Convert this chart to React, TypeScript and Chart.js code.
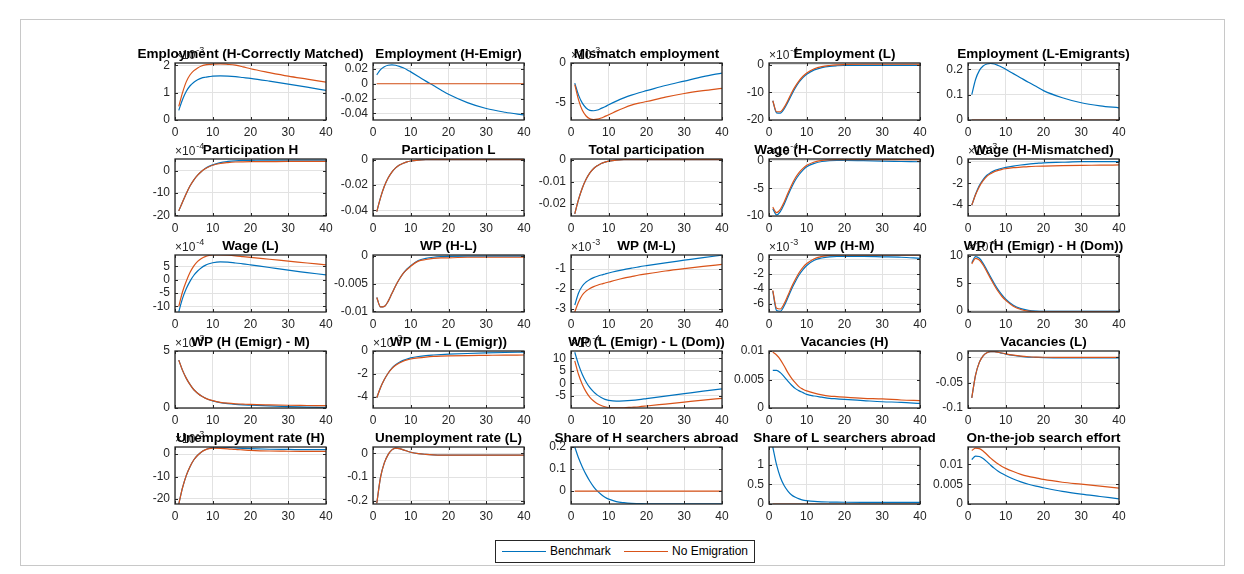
import React, { useEffect, useRef } from "react";
import { Chart, registerables } from "chart.js";

Chart.register(...registerables);

const PERIODS = [1, 2, 3, 4, 5, 6, 7, 8, 9, 10, 12, 14, 16, 18, 20, 25, 30, 35, 40];
const X_TICKS = [0, 10, 20, 30, 40];

const TITLES = [
  "Employment (H-Correctly Matched)", "Employment (H-Emigr)", "Mismatch employment", "Employment (L)", "Employment (L-Emigrants)",
  "Participation H", "Participation L", "Total participation", "Wage (H-Correctly Matched)", "Wage (H-Mismatched)",
  "Wage (L)", "WP (H-L)", "WP (M-L)", "WP (H-M)", "WP (H (Emigr) - H (Dom))",
  "WP (H (Emigr) - M)", "WP (M - L (Emigr))", "WP (L (Emigr) - L (Dom))", "Vacancies (H)", "Vacancies (L)",
  "Unemployment rate (H)", "Unemployment rate (L)", "Share of H searchers abroad", "Share of L searchers abroad", "On-the-job search effort",
];

const EXPONENTS: (number | null)[] = [
  -3, null, -3, -4, null,
  -4, null, null, -4, -3,
  -4, null, -3, -3, -4,
  -3, -3, -4, null, null,
  -3, null, null, null, null,
];

const Y_LIMITS: [number, number][] = [
  [0, 2.08], [-0.049, 0.028], [-7.1, 0], [-20, 0.7], [0, 0.225],
  [-20.3, 5.2], [-0.0445, 0.0005], [-0.0255, 0.0003], [-10, 0.3], [-5, 0.25],
  [-12.1, 9.3], [-0.0101, 0.0001], [-3.15, -0.3], [-7.1, 0.55], [-0.2, 10.1],
  [0, 5], [-5, 0], [-10, 13], [0, 0.01], [-0.1, 0.0125],
  [-22.3, 3.2], [-0.213, 0.027], [-0.058, 0.2], [0, 1.45], [0, 0.0144],
];

const Y_TICKS: number[][] = [
  [0, 1, 2], [-0.04, -0.02, 0, 0.02], [-5, 0], [-20, -10, 0], [0, 0.1, 0.2],
  [-20, -10, 0], [-0.04, -0.02, 0], [-0.02, -0.01, 0], [-10, -5, 0], [-4, -2, 0],
  [-10, -5, 0, 5], [-0.01, -0.005, 0], [-3, -2, -1], [-6, -4, -2, 0], [0, 5, 10],
  [0, 5], [-4, -2, 0], [-5, 0, 5, 10], [0, 0.005, 0.01], [-0.1, -0.05, 0],
  [-20, -10, 0], [-0.2, -0.1, 0], [0, 0.1, 0.2], [0, 0.5, 1], [0, 0.005, 0.01],
];

// Benchmark (blue) and No Emigration (red) series, values at PERIODS
const empHCM_b = [0.35, 0.75, 1.05, 1.25, 1.38, 1.47, 1.53, 1.56, 1.58, 1.6, 1.61, 1.6, 1.58, 1.55, 1.52, 1.42, 1.31, 1.2, 1.08];
const empHCM_n = [0.5, 1.0, 1.4, 1.65, 1.8, 1.9, 1.97, 2.01, 2.03, 2.04, 2.05, 2.03, 2.0, 1.94, 1.87, 1.73, 1.6, 1.49, 1.38];
const empHE_b = [0.012, 0.019, 0.023, 0.025, 0.0255, 0.025, 0.0235, 0.0215, 0.019, 0.016, 0.0098, 0.0035, -0.0025, -0.0085, -0.0142, -0.0255, -0.0335, -0.0385, -0.0422];
const empHE_n = [0, 0, 0, 0, 0, 0, 0, 0, 0, 0, 0, 0, 0, 0, 0, 0, 0, 0, 0];
const mism_b = [-2.5, -4.0, -5.0, -5.6, -5.9, -5.95, -5.85, -5.65, -5.45, -5.2, -4.75, -4.35, -4.0, -3.7, -3.45, -2.8, -2.25, -1.7, -1.25];
const mism_n = [-2.7, -4.6, -5.9, -6.6, -6.95, -7.05, -7.0, -6.85, -6.65, -6.45, -6.0, -5.6, -5.25, -5.0, -4.8, -4.25, -3.8, -3.45, -3.15];
const empL_b = [-13, -17.4, -17.5, -16, -13.5, -10.8, -8.3, -6.2, -4.6, -3.4, -1.8, -0.95, -0.5, -0.3, -0.2, -0.15, -0.15, -0.15, -0.15];
const empL_n = [-13, -17, -17, -15.4, -12.9, -10.1, -7.7, -5.7, -4.1, -2.9, -1.4, -0.6, -0.2, 0.05, 0.15, 0.25, 0.25, 0.25, 0.25];
const empLE_b = [0.1, 0.16, 0.195, 0.213, 0.221, 0.223, 0.221, 0.215, 0.208, 0.2, 0.183, 0.166, 0.149, 0.133, 0.116, 0.088, 0.068, 0.056, 0.048];
const empLE_n = [0, 0, 0, 0, 0, 0, 0, 0, 0, 0, 0, 0, 0, 0, 0, 0, 0, 0, 0];
const partH_b = [-18, -14, -10.2, -6.8, -4.1, -2, -0.4, 0.9, 1.9, 2.6, 3.6, 4.1, 4.4, 4.55, 4.6, 4.7, 4.7, 4.7, 4.7];
const partH_n = [-18, -14, -10.2, -6.8, -4.1, -2, -0.4, 0.8, 1.7, 2.4, 3.2, 3.6, 3.85, 3.95, 4.0, 4.05, 4.1, 4.1, 4.1];
const partL_b = [-0.041, -0.03, -0.021, -0.0145, -0.0098, -0.0065, -0.0043, -0.0028, -0.0018, -0.0011, -0.0004, -0.0001, 0, 0, 0, 0, 0, 0, 0];
const partL_n = [-0.041, -0.03, -0.021, -0.0145, -0.0098, -0.0065, -0.0043, -0.0028, -0.0018, -0.0011, -0.0004, -0.0001, 0, 0, 0, 0, 0, 0, 0];
const totP_b = [-0.0245, -0.018, -0.0128, -0.0089, -0.006, -0.004, -0.0027, -0.0017, -0.0011, -0.0007, -0.0002, 0, 0, 0, 0, 0, 0, 0, 0];
const totP_n = [-0.0245, -0.018, -0.0128, -0.0089, -0.006, -0.004, -0.0027, -0.0017, -0.0011, -0.0007, -0.0002, 0, 0, 0, 0, 0, 0, 0, 0];
const wHCM_b = [-8.7, -9.8, -9.2, -7.9, -6.3, -4.8, -3.5, -2.5, -1.7, -1.1, -0.5, -0.15, 0, 0.05, 0.05, 0, -0.1, -0.15, -0.2];
const wHCM_n = [-8.4, -9.4, -8.8, -7.5, -5.9, -4.4, -3.1, -2.1, -1.4, -0.85, -0.25, 0.05, 0.15, 0.2, 0.2, 0.2, 0.2, 0.2, 0.2];
const wHM_b = [-4.0, -3.0, -2.2, -1.65, -1.25, -1.0, -0.82, -0.7, -0.6, -0.52, -0.4, -0.3, -0.22, -0.16, -0.1, -0.05, 0, 0, 0];
const wHM_n = [-4.0, -3.05, -2.3, -1.75, -1.35, -1.1, -0.92, -0.8, -0.7, -0.64, -0.55, -0.5, -0.45, -0.42, -0.4, -0.36, -0.33, -0.32, -0.3];
const wL_b = [-12, -7, -3.3, -0.5, 1.7, 3.3, 4.5, 5.4, 6.0, 6.4, 6.7, 6.6, 6.3, 6.0, 5.6, 4.6, 3.6, 2.7, 1.8];
const wL_n = [-10, -4.5, -0.5, 2.8, 5.2, 6.9, 8.0, 8.7, 9.1, 9.3, 9.3, 9.2, 9.0, 8.7, 8.4, 7.7, 7.0, 6.3, 5.6];
const wpHL_b = [-0.0075, -0.0092, -0.0091, -0.0082, -0.0068, -0.0054, -0.0042, -0.0032, -0.0024, -0.0018, -0.0009, -0.0005, -0.0003, -0.0002, -0.00015, -0.0001, -0.0001, -0.0001, -0.0001];
const wpHL_n = [-0.0075, -0.0092, -0.0091, -0.0082, -0.0068, -0.0054, -0.0042, -0.0032, -0.0025, -0.0019, -0.001, -0.0007, -0.0005, -0.0004, -0.0004, -0.0003, -0.0003, -0.0003, -0.0003];
const wpML_b = [-2.8, -2.2, -1.85, -1.65, -1.52, -1.43, -1.36, -1.3, -1.25, -1.2, -1.11, -1.03, -0.96, -0.89, -0.83, -0.69, -0.56, -0.43, -0.31];
const wpML_n = [-3.15, -2.65, -2.3, -2.1, -1.97, -1.88, -1.81, -1.75, -1.7, -1.65, -1.55, -1.46, -1.38, -1.3, -1.24, -1.1, -0.98, -0.87, -0.77];
const wpHM_b = [-4.3, -6.9, -7.0, -6.3, -5.2, -4.0, -3.0, -2.1, -1.4, -0.85, -0.15, 0.15, 0.3, 0.35, 0.35, 0.35, 0.3, 0.25, 0.1];
const wpHM_n = [-4.2, -6.6, -6.7, -6.0, -4.9, -3.7, -2.7, -1.8, -1.1, -0.6, 0.05, 0.35, 0.5, 0.52, 0.52, 0.52, 0.52, 0.52, 0.52];
const wpHEHD_b = [8.7, 9.8, 9.5, 8.6, 7.4, 6.1, 4.9, 3.8, 2.9, 2.1, 1.0, 0.4, 0.1, -0.05, -0.1, -0.1, -0.1, -0.1, -0.1];
const wpHEHD_n = [8.5, 9.5, 9.2, 8.3, 7.1, 5.8, 4.6, 3.5, 2.6, 1.9, 0.85, 0.25, -0.05, -0.15, -0.18, -0.18, -0.18, -0.18, -0.18];
const wpHEM_b = [4.2, 3.3, 2.6, 2.05, 1.6, 1.3, 1.05, 0.87, 0.72, 0.62, 0.47, 0.38, 0.32, 0.28, 0.25, 0.18, 0.12, 0.08, 0.05];
const wpHEM_n = [4.2, 3.3, 2.6, 2.05, 1.6, 1.3, 1.05, 0.87, 0.74, 0.64, 0.5, 0.42, 0.37, 0.34, 0.31, 0.27, 0.24, 0.22, 0.2];
const wpMLE_b = [-4.1, -3.2, -2.5, -1.95, -1.5, -1.2, -0.98, -0.82, -0.7, -0.6, -0.48, -0.4, -0.35, -0.31, -0.28, -0.22, -0.17, -0.13, -0.1];
const wpMLE_n = [-4.1, -3.2, -2.5, -1.95, -1.55, -1.25, -1.05, -0.9, -0.78, -0.7, -0.6, -0.53, -0.48, -0.45, -0.43, -0.4, -0.38, -0.36, -0.35];
const wpLELD_b = [12.5, 7.5, 3.5, 0.5, -1.8, -3.5, -4.8, -5.8, -6.5, -6.9, -7.2, -7.1, -6.9, -6.6, -6.2, -5.2, -4.2, -3.2, -2.3];
const wpLELD_n = [9, 3.5, -0.5, -3.5, -5.7, -7.2, -8.3, -9.0, -9.5, -9.8, -9.95, -9.9, -9.7, -9.5, -9.2, -8.4, -7.6, -6.8, -6.1];
const vacH_b = [0.0066, 0.0066, 0.0062, 0.0055, 0.0047, 0.004, 0.0034, 0.003, 0.0027, 0.0024, 0.0021, 0.0019, 0.0017, 0.0016, 0.0015, 0.0013, 0.0011, 0.001, 0.0008];
const vacH_n = [0.0098, 0.0093, 0.0085, 0.0074, 0.0062, 0.0052, 0.0044, 0.0037, 0.0033, 0.003, 0.0026, 0.0023, 0.0021, 0.002, 0.0019, 0.0017, 0.0016, 0.0014, 0.0013];
const vacL_b = [-0.08, -0.035, -0.01, 0.003, 0.009, 0.011, 0.011, 0.01, 0.008, 0.0065, 0.004, 0.002, 0.0005, 0, -0.0005, -0.001, -0.001, -0.001, -0.001];
const vacL_n = [-0.08, -0.035, -0.01, 0.003, 0.009, 0.011, 0.011, 0.01, 0.0085, 0.007, 0.0045, 0.0025, 0.0012, 0.0005, 0.0002, 0, 0, 0, 0];
const urH_b = [-22.3, -15, -9.5, -5.5, -2.5, -0.5, 1.0, 2.0, 2.6, 2.9, 3.1, 3.0, 2.8, 2.6, 2.45, 2.2, 2.1, 2.0, 2.0];
const urH_n = [-22.3, -15, -9.5, -5.5, -2.5, -0.5, 1.0, 1.9, 2.45, 2.7, 2.6, 2.4, 2.1, 1.9, 1.7, 1.4, 1.3, 1.25, 1.2];
const urL_b = [-0.21, -0.1, -0.04, -0.005, 0.015, 0.022, 0.02, 0.015, 0.01, 0.005, -0.001, -0.004, -0.006, -0.007, -0.007, -0.007, -0.007, -0.007, -0.007];
const urL_n = [-0.21, -0.1, -0.04, -0.005, 0.015, 0.022, 0.02, 0.015, 0.01, 0.005, -0.001, -0.004, -0.006, -0.007, -0.007, -0.007, -0.007, -0.007, -0.007];
const shH_b = [0.2, 0.15, 0.11, 0.075, 0.045, 0.02, 0.0, -0.015, -0.027, -0.036, -0.047, -0.052, -0.055, -0.056, -0.057, -0.057, -0.057, -0.057, -0.057];
const shH_n = [0, 0, 0, 0, 0, 0, 0, 0, 0, 0, 0, 0, 0, 0, 0, 0, 0, 0, 0];
const shL_b = [1.45, 1.0, 0.68, 0.47, 0.33, 0.23, 0.17, 0.13, 0.1, 0.085, 0.065, 0.055, 0.05, 0.047, 0.045, 0.042, 0.04, 0.04, 0.04];
const shL_n = [0, 0, 0, 0, 0, 0, 0, 0, 0, 0, 0, 0, 0, 0, 0, 0, 0, 0, 0];
const ojs_b = [0.0112, 0.0121, 0.012, 0.0115, 0.0107, 0.0098, 0.009, 0.0083, 0.0077, 0.0072, 0.0063, 0.0056, 0.005, 0.0045, 0.0041, 0.0032, 0.0025, 0.0019, 0.0013];
const ojs_n = [0.0135, 0.0141, 0.014, 0.0134, 0.0125, 0.0116, 0.0108, 0.0101, 0.0095, 0.009, 0.0082, 0.0075, 0.007, 0.0066, 0.0062, 0.0055, 0.005, 0.0045, 0.004];

const BENCHMARK = [
  empHCM_b, empHE_b, mism_b, empL_b, empLE_b,
  partH_b, partL_b, totP_b, wHCM_b, wHM_b,
  wL_b, wpHL_b, wpML_b, wpHM_b, wpHEHD_b,
  wpHEM_b, wpMLE_b, wpLELD_b, vacH_b, vacL_b,
  urH_b, urL_b, shH_b, shL_b, ojs_b,
];
const NO_EMIGRATION = [
  empHCM_n, empHE_n, mism_n, empL_n, empLE_n,
  partH_n, partL_n, totP_n, wHCM_n, wHM_n,
  wL_n, wpHL_n, wpML_n, wpHM_n, wpHEHD_n,
  wpHEM_n, wpMLE_n, wpLELD_n, vacH_n, vacL_n,
  urH_n, urL_n, shH_n, shL_n, ojs_n,
];

const SERIES_LABELS = ["Benchmark", "No Emigration"];

const BLUE = "#0072BD";
const RED = "#D95319";
const AXIS_COLOR = "#262626";
const GRID_COLOR = "#e2e2e2";
const FONT = '"Liberation Sans", Arial, Helvetica, sans-serif';

// layout
const PAD_L = 70, PAD_R = 55, PAD_T = 32, PAD_B = 24;
const AX_W = 151, AX_H = 57;
const COL_LEFT = [175, 373, 571, 769, 968];
const ROW_TOP = [63, 159, 255, 351, 447];

const matlabPlugin = {
  id: "matlab",
  afterDraw(chart: any, _args: any, opts: any) {
    const { ctx, chartArea: a, scales } = chart;
    ctx.save();
    ctx.strokeStyle = AXIS_COLOR;
    ctx.lineWidth = 1;
    ctx.beginPath();
    for (const v of X_TICKS) {
      const px = Math.round(scales.x.getPixelForValue(v)) + 0.5;
      ctx.moveTo(px, a.bottom);
      ctx.lineTo(px, a.bottom - 3);
      ctx.moveTo(px, a.top);
      ctx.lineTo(px, a.top + 3);
    }
    for (const v of opts.yTicks) {
      const py = Math.round(scales.y.getPixelForValue(v)) + 0.5;
      ctx.moveTo(a.left, py);
      ctx.lineTo(a.left + 3, py);
      ctx.moveTo(a.right, py);
      ctx.lineTo(a.right - 3, py);
    }
    ctx.stroke();
    ctx.lineWidth = 1.3;
    ctx.strokeRect(a.left, a.top, a.right - a.left, a.bottom - a.top);
    ctx.fillStyle = AXIS_COLOR;
    ctx.textBaseline = "alphabetic";
    if (opts.exp !== null && opts.exp !== undefined) {
      ctx.textAlign = "left";
      ctx.font = `12px ${FONT}`;
      const base = "\u00d710";
      ctx.fillText(base, a.left, a.top - 4);
      const w = ctx.measureText(base).width;
      ctx.font = `9px ${FONT}`;
      ctx.fillText(String(opts.exp), a.left + w + 1, a.top - 10);
    }
    ctx.fillStyle = "#000";
    ctx.textAlign = "center";
    ctx.font = `bold 13.5px ${FONT}`;
    ctx.fillText(opts.title, (a.left + a.right) / 2, a.top - 5);
    ctx.restore();
  },
};

function Panel({ index }: { index: number }) {
  const ref = useRef<HTMLCanvasElement | null>(null);
  const row = Math.floor(index / 5);
  const col = index % 5;
  const W = PAD_L + AX_W + PAD_R;
  const H = PAD_T + AX_H + PAD_B;
  useEffect(() => {
    if (!ref.current) return;
    const [ymin, ymax] = Y_LIMITS[index];
    const yTicks = Y_TICKS[index];
    const tickFont = { family: FONT, size: 12 };
    const chart = new Chart(ref.current, {
      type: "line",
      data: {
        datasets: [
          {
            label: SERIES_LABELS[1],
            data: PERIODS.map((x, i) => ({ x, y: NO_EMIGRATION[index][i] })),
            borderColor: RED,
            borderWidth: 1.2,
            pointRadius: 0,
            fill: false,
            cubicInterpolationMode: "monotone",
          },
          {
            label: SERIES_LABELS[0],
            data: PERIODS.map((x, i) => ({ x, y: BENCHMARK[index][i] })),
            borderColor: BLUE,
            borderWidth: 1.2,
            pointRadius: 0,
            fill: false,
            cubicInterpolationMode: "monotone",
          },
        ],
      },
      options: {
        animation: false,
        responsive: false,
        maintainAspectRatio: false,
        events: [],
        layout: { padding: { left: 0, right: PAD_R, top: PAD_T, bottom: 0 } },
        plugins: {
          legend: { display: false },
          tooltip: { enabled: false },
          title: { display: false },
          matlab: { title: TITLES[index], exp: EXPONENTS[index], yTicks },
        } as any,
        scales: {
          x: {
            type: "linear",
            min: 0,
            max: 40,
            afterBuildTicks: (s: any) => {
              s.ticks = X_TICKS.map((v) => ({ value: v }));
            },
            afterFit: (s: any) => {
              s.height = PAD_B;
            },
            grid: { color: GRID_COLOR, drawTicks: false, lineWidth: 1 },
            border: { display: false },
            ticks: {
              padding: 5,
              color: AXIS_COLOR,
              font: tickFont,
              maxRotation: 0,
              autoSkip: false,
              callback: (v: any) => String(v),
            },
          },
          y: {
            type: "linear",
            min: ymin,
            max: ymax,
            afterBuildTicks: (s: any) => {
              s.ticks = yTicks.map((v) => ({ value: v }));
            },
            afterFit: (s: any) => {
              s.width = PAD_L;
            },
            grid: { color: GRID_COLOR, drawTicks: false, lineWidth: 1 },
            border: { display: false },
            ticks: {
              padding: 5,
              color: AXIS_COLOR,
              font: tickFont,
              autoSkip: false,
              callback: (v: any) => String(v),
            },
          },
        },
      },
      plugins: [matlabPlugin as any],
    } as any);
    return () => chart.destroy();
  }, [index]);
  return (
    <canvas
      ref={ref}
      width={W}
      height={H}
      style={{
        position: "absolute",
        left: COL_LEFT[col] - PAD_L,
        top: ROW_TOP[row] - PAD_T,
        width: W,
        height: H,
      }}
    />
  );
}

export default function App() {
  return (
    <div style={{ position: "absolute", left: 0, top: 0, width: 1244, height: 574, overflow: "hidden", background: "#fff" }}>
      <div style={{ position: "absolute", left: 20, top: 19, width: 1205, height: 547, border: "1px solid #c8c8c8", boxSizing: "border-box" }} />
      {TITLES.map((_, i) => (
        <Panel key={i} index={i} />
      ))}
      <div
        style={{
          position: "absolute",
          left: 495,
          top: 540,
          width: 260,
          height: 23,
          border: "1px solid #262626",
          boxSizing: "border-box",
          background: "#fff",
          fontFamily: FONT,
          fontSize: 12,
          color: "#000",
        }}
      >
        <div style={{ position: "absolute", left: 6, top: 10, width: 44, height: 1, background: BLUE }} />
        <div style={{ position: "absolute", left: 54, top: 3, lineHeight: "15px", whiteSpace: "nowrap" }}>{SERIES_LABELS[0]}</div>
        <div style={{ position: "absolute", left: 128, top: 10, width: 44, height: 1, background: RED }} />
        <div style={{ position: "absolute", left: 176, top: 3, lineHeight: "15px", whiteSpace: "nowrap" }}>{SERIES_LABELS[1]}</div>
      </div>
    </div>
  );
}
